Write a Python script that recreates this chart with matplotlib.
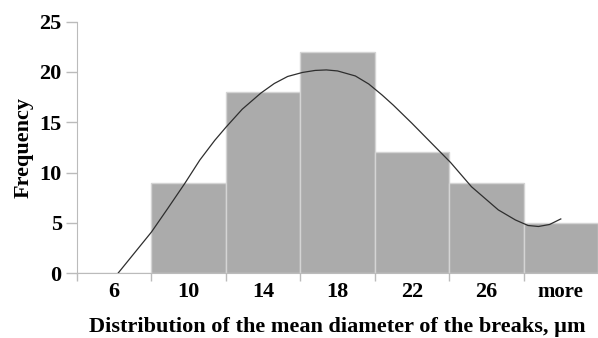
import numpy as np
import matplotlib.pyplot as plt

# histogram data
categories = ["6", "10", "14", "18", "22", "26", "more"]
frequency = [0, 9, 18, 22, 12, 9, 5]

# fitted curve (x in category units)
curve_x = [0.05, 0.5, 0.72, 0.95, 1.15, 1.35, 1.5, 1.72, 1.97, 2.15, 2.33,
           2.53, 2.7, 2.85, 3.0, 3.24, 3.42, 3.6, 3.75, 4.0, 4.2, 4.36, 4.52,
           4.8, 5.16, 5.39, 5.56, 5.7, 5.85, 6.0]
curve_y = [0, 4.1, 6.45, 8.95, 11.25, 13.2, 14.5, 16.3, 17.9, 18.85, 19.55,
           19.95, 20.15, 20.2, 20.1, 19.6, 18.8, 17.7, 16.7, 14.9, 13.4, 12.2,
           11.0, 8.6, 6.3, 5.3, 4.75, 4.65, 4.85, 5.4]

plt.rcParams["font.family"] = ["Liberation Serif", "DejaVu Serif"]
plt.rcParams["font.weight"] = "bold"

fig = plt.figure(figsize=(5.98, 3.38), dpi=100)
ax = fig.add_axes([0.1288, 0.1914, 0.8712, 0.7447])

pos = np.arange(len(categories))
ax.bar(pos, frequency, width=1.0, color="#ababab", edgecolor="#d4d4d4",
       linewidth=1.0, zorder=2)
ax.plot(curve_x, curve_y, color="#2e2e2e", linewidth=0.9, zorder=3)

ax.set_xlim(-0.5, 6.5)
ax.set_ylim(0, 25)
ax.set_yticks([0, 5, 10, 15, 20, 25])

ax.set_xticks(pos)
ax.set_xticklabels(categories)
ax.set_xticks(np.arange(-0.5, 6.5, 1.0), minor=True)
ax.tick_params(axis="x", which="major", length=0, labelsize=16, pad=6)
ax.tick_params(axis="x", which="minor", length=6, color="#bbbbbb", width=1)
ax.tick_params(axis="y", length=8, color="#bbbbbb", width=1, labelsize=16, pad=3)
for lab in ax.get_xticklabels():
    if lab.get_text() == "more":
        lab.set_fontsize(15)

for s in ["top", "right"]:
    ax.spines[s].set_visible(False)
ax.spines["left"].set_color("#bbbbbb")
ax.spines["bottom"].set_color("#bbbbbb")

ax.set_ylabel("Frequency", fontsize=16, fontweight="bold", labelpad=4)
ax.set_xlabel("Distribution of the mean diameter of the breaks, \u00b5m",
              fontsize=16, fontweight="bold", labelpad=11)

fig.savefig("out.png", dpi=100)
